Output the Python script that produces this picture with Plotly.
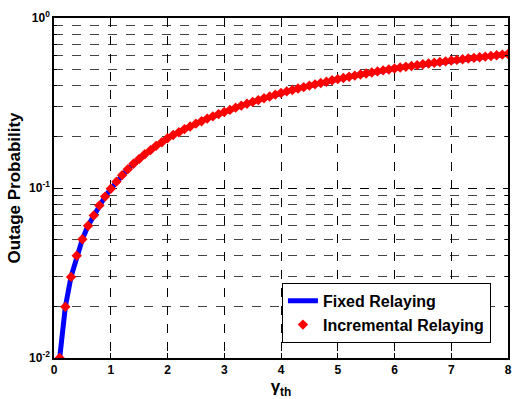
import plotly.graph_objects as go

gamma_th = [round(0.1 * i, 1) for i in range(1, 81)]
outage = [
    0.010, 0.020, 0.030, 0.040, 0.050, 0.060, 0.069, 0.079, 0.089, 0.099,
    0.109, 0.119, 0.129, 0.139, 0.148, 0.158, 0.167, 0.177, 0.186, 0.196,
    0.205, 0.213, 0.222, 0.230, 0.239, 0.247, 0.256, 0.264, 0.272, 0.280,
    0.288, 0.297, 0.305, 0.313, 0.321, 0.329, 0.337, 0.345, 0.354, 0.362,
    0.370, 0.377, 0.385, 0.392, 0.400, 0.407, 0.415, 0.422, 0.430, 0.437,
    0.444, 0.451, 0.458, 0.465, 0.472, 0.478, 0.485, 0.492, 0.498, 0.505,
    0.511, 0.517, 0.522, 0.528, 0.534, 0.540, 0.545, 0.551, 0.556, 0.562,
    0.567, 0.572, 0.578, 0.583, 0.588, 0.593, 0.598, 0.604, 0.609, 0.614,
]
fixed = outage
incremental = outage

x_ticks = [0, 1, 2, 3, 4, 5, 6, 7, 8]
y_tickvals = [0.01, 0.1, 1]
y_ticktext = ["10<sup>-2</sup>", "10<sup>-1</sup>", "10<sup>0</sup>"]
y_minor = [0.02, 0.03, 0.04, 0.05, 0.06, 0.07, 0.08, 0.09,
           0.2, 0.3, 0.4, 0.5, 0.6, 0.7, 0.8, 0.9]

font = "Liberation Sans, Arial, sans-serif"

fig = go.Figure()
fig.add_trace(go.Scatter(
    x=gamma_th, y=fixed, mode="lines", name="<b>Fixed Relaying</b>",
    line=dict(color="#0000ff", width=5),
))
fig.add_trace(go.Scatter(
    x=gamma_th, y=incremental, mode="markers", name="<b>Incremental Relaying</b>",
    marker=dict(color="#ff0000", size=8, symbol="diamond"),
))

fig.update_layout(
    width=512, height=399,
    margin=dict(l=54, r=4, t=18, b=41),
    paper_bgcolor="white", plot_bgcolor="white",
    font=dict(family=font, color="black", size=12),
    legend=dict(
        x=0.962, y=0.045, xanchor="right", yanchor="bottom",
        bgcolor="white", bordercolor="black", borderwidth=1.2,
        font=dict(family=font, size=16, color="black"),
        tracegroupgap=0, itemwidth=30,
    ),
    showlegend=True,
)
fig.update_xaxes(
    range=[0, 8], tickvals=x_ticks, ticktext=[f"<b>{v}</b>" for v in x_ticks],
    showline=True, linecolor="black", linewidth=1.5, mirror="allticks",
    ticks="inside", ticklen=5, tickcolor="black",
    showgrid=True, gridcolor="black", griddash="dash", gridwidth=1,
    zeroline=False, automargin=False,
    title=dict(text="<b>γ<sub>th</sub></b>", font=dict(size=17), standoff=6),
    tickfont=dict(size=12),
)
fig.update_yaxes(
    type="log", range=[-2, 0], tickvals=y_tickvals, ticktext=[f"<b>{t}</b>" for t in y_ticktext],
    showline=True, linecolor="black", linewidth=1.5, mirror="allticks",
    ticks="inside", ticklen=5, tickcolor="black",
    showgrid=True, gridcolor="black", griddash="dash", gridwidth=1,
    minor=dict(tickmode="array", tickvals=y_minor, showgrid=True, gridcolor="#444444",
               griddash="dash", ticks="inside", ticklen=3, tickcolor="black"),
    zeroline=False, automargin=False,
    title=dict(text="<b>Outage Probability</b>", font=dict(size=17), standoff=4),
    tickfont=dict(size=12),
)

fig.write_html("out.html")
